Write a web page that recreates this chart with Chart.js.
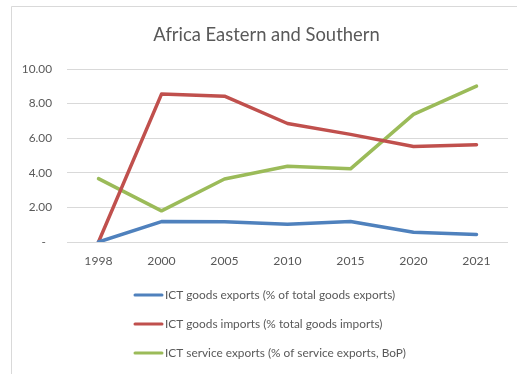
<!DOCTYPE html>
<html>
<head>
<meta charset="utf-8">
<script src="https://cdn.jsdelivr.net/npm/chart.js@4/dist/chart.umd.min.js"></script>
<style>
  html, body { margin: 0; padding: 0; background: #ffffff; }
  #wrap { position: relative; width: 517px; height: 374px; }
</style>
</head>
<body>
<div id="wrap"><canvas id="c" width="517" height="374"></canvas></div>
<script>
// Years on the horizontal axis
const years = ['1998', '2000', '2005', '2010', '2015', '2020', '2021'];

// ICT trade indicators, percent
const goodsExports = [0.00, 1.18, 1.17, 1.03, 1.18, 0.56, 0.43];
const goodsImports = [0.00, 8.55, 8.43, 6.85, 6.22, 5.52, 5.62];
const serviceExports = [3.66, 1.80, 3.64, 4.38, 4.23, 7.38, 9.01];

// Series names
const seriesNames = [
  'ICT goods exports (% of total goods exports)',
  'ICT goods imports (% total goods imports)',
  'ICT service exports (% of service exports, BoP)'
];

const titleText = 'Africa Eastern and Southern';
const FONT = 'Lato, "Open Sans", "Liberation Sans", sans-serif';
const TEXT = '#595959';
const GRID = '#d9d9d9';

// Outer frame, title and stacked legend drawn onto the canvas
const decorations = {
  id: 'decorations',
  beforeDraw(chart) {
    const ctx = chart.ctx;
    ctx.save();
    ctx.fillStyle = '#ffffff';
    ctx.fillRect(0, 0, chart.width, chart.height);
    ctx.strokeStyle = GRID;
    ctx.lineWidth = 1;
    ctx.beginPath();
    ctx.moveTo(11.5, chart.height);
    ctx.lineTo(11.5, 6.5);
    ctx.lineTo(chart.width, 6.5);
    ctx.stroke();
    ctx.fillStyle = TEXT;
    ctx.font = '18.4px ' + FONT;
    ctx.textAlign = 'center';
    ctx.textBaseline = 'middle';
    ctx.fillText(titleText, 266.5, 35);
    ctx.restore();
  },
  afterDraw(chart) {
    const ctx = chart.ctx;
    ctx.save();
    const rows = [295, 324, 353];
    chart.data.datasets.forEach((ds, i) => {
      const y = rows[i];
      ctx.strokeStyle = ds.borderColor;
      ctx.lineWidth = 3;
      ctx.lineCap = 'round';
      ctx.beginPath();
      ctx.moveTo(135, y);
      ctx.lineTo(162, y);
      ctx.stroke();
      ctx.fillStyle = TEXT;
      ctx.font = '11.85px ' + FONT;
      ctx.textAlign = 'left';
      ctx.textBaseline = 'middle';
      ctx.fillText(ds.label, 165, y);
    });
    ctx.restore();
  }
};

const colors = ['#4F81BD', '#C0504D', '#9BBB59'];
const seriesValues = [goodsExports, goodsImports, serviceExports];

new Chart(document.getElementById('c'), {
  type: 'line',
  data: {
    labels: years,
    datasets: seriesValues.map((vals, i) => ({
      label: seriesNames[i],
      data: vals,
      borderColor: colors[i],
      backgroundColor: colors[i],
      borderWidth: 3.5,
      borderCapStyle: 'round',
      borderJoinStyle: 'round',
      pointRadius: 0,
      tension: 0,
      fill: false
    }))
  },
  options: {
    responsive: false,
    animation: false,
    devicePixelRatio: 1,
    layout: { padding: { top: 69, right: 9, bottom: 92, left: 0 } },
    plugins: {
      legend: { display: false },
      title: { display: false },
      tooltip: { enabled: false }
    },
    scales: {
      x: {
        offset: true,
        grid: { display: false, drawTicks: false },
        border: { display: false },
        ticks: { color: TEXT, font: { family: FONT, size: 12.2 }, padding: 12, maxRotation: 0 },
        afterFit(scale) { scale.height = 40; }
      },
      y: {
        min: 0,
        max: 10,
        grid: { color: GRID, lineWidth: 1, drawTicks: false },
        border: { display: false },
        ticks: {
          stepSize: 2,
          color: TEXT,
          font: { family: FONT, size: 11.8 },
          padding: 15,
          callback: (v) => v === 0 ? '-  ' : v.toFixed(2)
        },
        afterFit(scale) { scale.width = 67; }
      }
    }
  },
  plugins: [decorations]
});
</script>
</body>
</html>
